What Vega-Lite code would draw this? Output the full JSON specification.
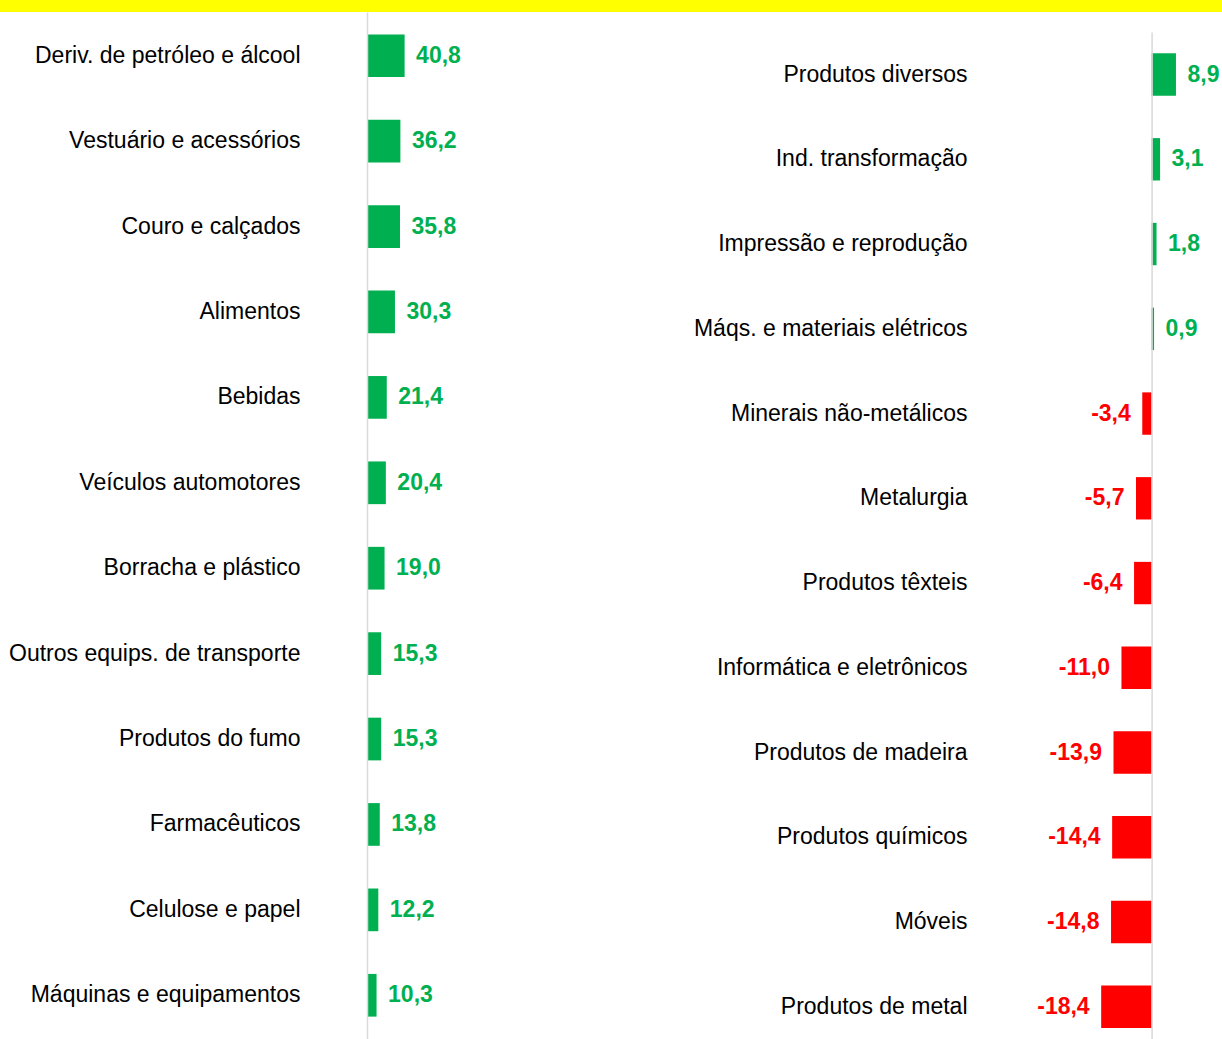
{
  "$schema": "https://vega.github.io/schema/vega-lite/v6.json",
  "padding": 0,
  "background": "#ffffff",
  "spacing": 0,
  "align": "none",
  "datasets": {
    "esquerda": [
      {"setor": "Deriv. de petróleo e álcool", "valor": 40.8},
      {"setor": "Vestuário e acessórios", "valor": 36.2},
      {"setor": "Couro e calçados", "valor": 35.8},
      {"setor": "Alimentos", "valor": 30.3},
      {"setor": "Bebidas", "valor": 21.4},
      {"setor": "Veículos automotores", "valor": 20.4},
      {"setor": "Borracha e plástico", "valor": 19.0},
      {"setor": "Outros equips. de transporte", "valor": 15.3},
      {"setor": "Produtos do fumo", "valor": 15.3},
      {"setor": "Farmacêuticos", "valor": 13.8},
      {"setor": "Celulose e papel", "valor": 12.2},
      {"setor": "Máquinas e equipamentos", "valor": 10.3}
    ],
    "direita": [
      {"setor": "Produtos diversos", "valor": 8.9},
      {"setor": "Ind. transformação", "valor": 3.1},
      {"setor": "Impressão e reprodução", "valor": 1.8},
      {"setor": "Máqs. e materiais elétricos", "valor": 0.9},
      {"setor": "Minerais não-metálicos", "valor": -3.4},
      {"setor": "Metalurgia", "valor": -5.7},
      {"setor": "Produtos têxteis", "valor": -6.4},
      {"setor": "Informática e eletrônicos", "valor": -11.0},
      {"setor": "Produtos de madeira", "valor": -13.9},
      {"setor": "Produtos químicos", "valor": -14.4},
      {"setor": "Móveis", "valor": -14.8},
      {"setor": "Produtos de metal", "valor": -18.4}
    ],
    "faixa": [{"faixa": "topo"}]
  },
  "vconcat": [
    {
      "width": 1222,
      "height": 12,
      "view": {"fill": "#ffff00", "stroke": null},
      "data": {"name": "faixa"},
      "mark": {"type": "rect", "color": "#ffff00"},
      "encoding": {}
    },
    {
      "spacing": 0,
      "align": "none",
      "hconcat": [
        {
          "width": 682,
          "height": 1027,
          "data": {"name": "esquerda"},
          "encoding": {
            "y": {
              "field": "setor", "type": "nominal", "sort": null,
              "scale": {"paddingInner": 0.5, "paddingOuter": 0.262},
              "axis": {"title": null, "ticks": false, "domain": true, "domainColor": "#d9d9d9",
                       "domainWidth": 1.5, "offset": -367, "labelPadding": 67, "zindex": 1,
                       "labelFontSize": 23, "labelFont": "Liberation Sans", "labelColor": "#000000",
                       "labelLimit": 400}
            },
            "x": {"field": "valor", "type": "quantitative",
                  "scale": {"domain": [-399, 342.3], "nice": false, "zero": false}, "axis": null}
          },
          "layer": [
            {
              "mark": {"type": "bar", "color": "#00b050"}
            },
            {
              "mark": {"type": "text", "align": "left", "baseline": "middle", "dx": 11.5,
                       "fontSize": 23, "fontWeight": "bold", "font": "Liberation Sans", "color": "#00b050"},
              "encoding": {
                "text": {"field": "valor", "type": "quantitative", "format": ".1f"}
              }
            }
          ]
        },
        {
          "width": 540,
          "height": 1027,
          "data": {"name": "direita"},
          "encoding": {
            "y": {
              "field": "setor", "type": "nominal", "sort": null,
              "scale": {"range": [20, 1027], "paddingInner": 0.5, "paddingOuter": 0.191, "align": 0.66},
              "axis": {"title": null, "ticks": false, "domain": true, "domainColor": "#d9d9d9",
                       "domainWidth": 1.5, "offset": -469.6, "labelPadding": 184.6, "zindex": 1,
                       "labelFontSize": 23, "labelFont": "Liberation Sans", "labelColor": "#000000",
                       "labelLimit": 400}
            },
            "x": {"field": "valor", "type": "quantitative",
                  "scale": {"domain": [-171.4, 25.7], "nice": false, "zero": false}, "axis": null}
          },
          "layer": [
            {
              "mark": {"type": "bar"},
              "encoding": {
                "color": {"condition": {"test": "datum.valor < 0", "value": "#ff0000"}, "value": "#00b050"}
              }
            },
            {
              "transform": [{"filter": "datum.valor >= 0"}],
              "mark": {"type": "text", "align": "left", "baseline": "middle", "dx": 11.5,
                       "fontSize": 23, "fontWeight": "bold", "font": "Liberation Sans", "color": "#00b050"},
              "encoding": {
                "text": {"field": "valor", "type": "quantitative", "format": ".1f"}
              }
            },
            {
              "transform": [{"filter": "datum.valor < 0"}],
              "mark": {"type": "text", "align": "right", "baseline": "middle", "dx": -11.5,
                       "fontSize": 23, "fontWeight": "bold", "font": "Liberation Sans", "color": "#ff0000"},
              "encoding": {
                "text": {"field": "valor", "type": "quantitative", "format": ".1f"}
              }
            }
          ]
        }
      ]
    }
  ],
  "config": {
    "view": {"stroke": null},
    "locale": {
      "number": {"decimal": ",", "thousands": ".", "grouping": [3], "currency": ["R$", ""], "minus": "-"}
    }
  }
}
